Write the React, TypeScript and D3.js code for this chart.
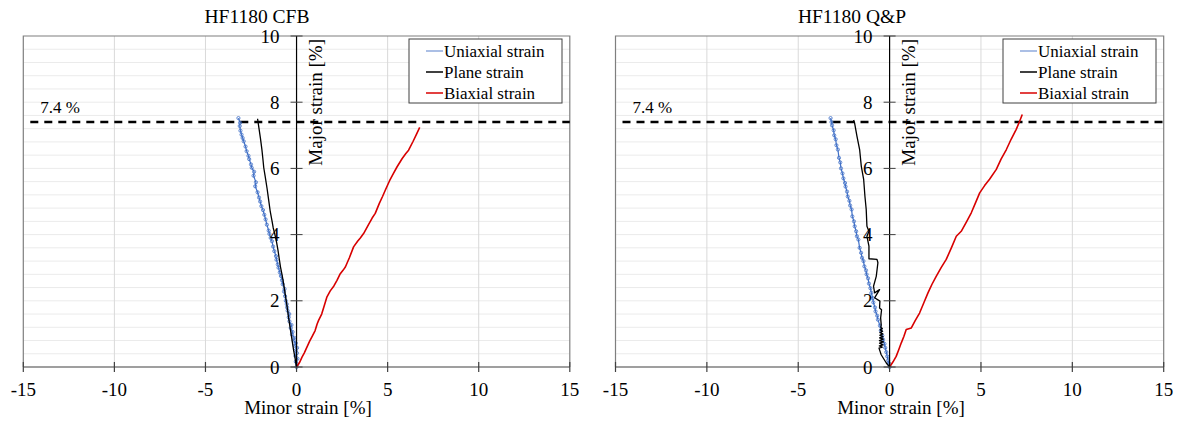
import React from "react";
import * as d3 from "d3";

type Pt = [number, number];

const xTicks = [-15, -10, -5, 0, 5, 10, 15];
const yTicks = [0, 2, 4, 6, 8, 10];
const limitValue = 7.4;
const limitLabel = "7.4 %";
const seriesNames = ["Uniaxial strain", "Plane strain", "Biaxial strain"];
const titles = ["HF1180 CFB", "HF1180 Q&P"];

const cfbUniaxial: Pt[] = [
  [0, 0], [0.03, 0.08], [-0.04, 0.16], [0.05, 0.25], [-0.06, 0.33], [0.02, 0.42], [-0.05, 0.5],
  [0.03, 0.58], [-0.1, 0.64], [-0.04, 0.72], [-0.16, 0.8], [-0.12, 0.88], [-0.25, 0.98],
  [-0.22, 1.06], [-0.32, 1.18], [-0.28, 1.27], [-0.39, 1.38], [-0.43, 1.5], [-0.4, 1.6],
  [-0.49, 1.7], [-0.52, 1.8], [-0.54, 1.9], [-0.59, 2.0], [-0.63, 2.14], [-0.69, 2.28],
  [-0.66, 2.36], [-0.76, 2.5], [-0.8, 2.62], [-0.86, 2.75], [-0.92, 2.86], [-0.99, 3.0],
  [-1.03, 3.1], [-1.1, 3.24], [-1.13, 3.35], [-1.22, 3.5], [-1.29, 3.64], [-1.35, 3.8],
  [-1.42, 3.9], [-1.49, 4.02], [-1.53, 4.12], [-1.63, 4.3], [-1.7, 4.46], [-1.77, 4.6],
  [-1.84, 4.74], [-1.93, 4.86], [-2.0, 5.0], [-2.06, 5.12], [-2.14, 5.28], [-2.27, 5.46],
  [-2.23, 5.58], [-2.36, 5.78], [-2.33, 5.9], [-2.46, 6.02], [-2.5, 6.12], [-2.6, 6.28],
  [-2.64, 6.38], [-2.74, 6.52], [-2.8, 6.66], [-2.9, 6.82], [-2.96, 6.92], [-3.02, 7.02],
  [-3.08, 7.14], [-3.12, 7.28], [-3.1, 7.38], [-3.19, 7.52],
];

const cfbPlane: Pt[] = [
  [0, 0], [-0.03, 0.08], [-0.09, 0.3], [-0.16, 0.5], [-0.23, 0.75], [-0.3, 1.0], [-0.37, 1.25],
  [-0.44, 1.5], [-0.5, 1.75], [-0.57, 2.02], [-0.64, 2.27], [-0.71, 2.52], [-0.79, 2.77],
  [-0.88, 3.02], [-0.95, 3.27], [-1.02, 3.53], [-1.1, 3.78], [-1.2, 4.03], [-1.28, 4.2],
  [-1.35, 4.42], [-1.45, 4.72], [-1.53, 5.04], [-1.62, 5.4], [-1.72, 5.75], [-1.8, 6.02],
  [-1.85, 6.3], [-1.9, 6.56], [-1.98, 6.9], [-2.06, 7.2], [-2.14, 7.5],
];

const cfbBiaxial: Pt[] = [
  [0, 0], [0.18, 0.15], [0.3, 0.3], [0.42, 0.42], [0.57, 0.6], [0.72, 0.78], [0.88, 0.95],
  [1.02, 1.1], [1.13, 1.3], [1.21, 1.41], [1.38, 1.6], [1.52, 1.85], [1.67, 2.12], [1.85, 2.3],
  [2.05, 2.45], [2.22, 2.62], [2.38, 2.8], [2.55, 2.92], [2.68, 3.02], [2.9, 3.3], [3.13, 3.63],
  [3.35, 3.8], [3.5, 3.9], [3.68, 4.03], [3.95, 4.3], [4.15, 4.5], [4.32, 4.64], [4.55, 4.95],
  [4.72, 5.15], [4.87, 5.34], [5.1, 5.62], [5.32, 5.85], [5.52, 6.05], [5.8, 6.3], [6.0, 6.45],
  [6.15, 6.55], [6.4, 6.82], [6.6, 7.05], [6.76, 7.24],
];

const qpUniaxial: Pt[] = [
  [0, 0], [-0.05, 0.12], [-0.08, 0.2], [-0.13, 0.32], [-0.18, 0.45], [-0.24, 0.58], [-0.28, 0.7],
  [-0.36, 0.83], [-0.4, 0.95], [-0.48, 1.1], [-0.53, 1.25], [-0.64, 1.43], [-0.68, 1.55],
  [-0.77, 1.68], [-0.8, 1.8], [-0.89, 1.95], [-0.92, 2.08], [-1.0, 2.24], [-1.05, 2.38],
  [-1.13, 2.52], [-1.18, 2.68], [-1.26, 2.8], [-1.29, 2.92], [-1.38, 3.04], [-1.43, 3.2],
  [-1.51, 3.3], [-1.56, 3.45], [-1.64, 3.6], [-1.71, 3.85], [-1.79, 3.95], [-1.83, 4.1],
  [-1.91, 4.25], [-1.95, 4.4], [-2.04, 4.55], [-2.08, 4.76], [-2.16, 4.88], [-2.2, 5.02],
  [-2.29, 5.15], [-2.33, 5.3], [-2.41, 5.45], [-2.44, 5.56], [-2.53, 5.7], [-2.58, 5.85],
  [-2.66, 6.0], [-2.7, 6.18], [-2.77, 6.32], [-2.83, 6.57], [-2.91, 6.7], [-2.95, 6.88],
  [-3.03, 7.0], [-3.06, 7.15], [-3.15, 7.3], [-3.18, 7.4], [-3.23, 7.52],
];

const qpPlane: Pt[] = [
  [0, 0], [-0.18, 0.12], [-0.46, 0.37], [-0.58, 0.57], [-0.4, 0.6], [-0.56, 0.64], [-0.36, 0.67],
  [-0.55, 0.72], [-0.34, 0.76], [-0.56, 0.8], [-0.35, 0.84], [-0.55, 0.88], [-0.36, 0.92],
  [-0.54, 0.96], [-0.37, 1.0], [-0.53, 1.04], [-0.38, 1.08], [-0.52, 1.12], [-0.4, 1.16],
  [-0.48, 1.2], [-0.46, 1.28], [-0.49, 1.48], [-0.44, 1.73], [-0.55, 1.78], [-0.53, 1.99],
  [-0.82, 2.09], [-0.55, 2.34], [-0.82, 2.24], [-0.88, 2.44], [-0.73, 2.74], [-0.64, 3.15],
  [-0.69, 3.25], [-1.13, 3.27], [-1.13, 3.65], [-1.24, 3.95], [-1.13, 4.1], [-1.24, 4.25],
  [-1.28, 4.76], [-1.35, 5.16], [-1.42, 5.67], [-1.55, 6.07], [-1.64, 6.57], [-1.79, 6.98],
  [-1.92, 7.38], [-1.97, 7.46],
];

const qpBiaxial: Pt[] = [
  [0, 0], [0.18, 0.15], [0.36, 0.32], [0.5, 0.52], [0.64, 0.73], [0.78, 0.92], [0.91, 1.13],
  [1.19, 1.18], [1.4, 1.4], [1.64, 1.63], [1.88, 1.95], [2.1, 2.24], [2.32, 2.5], [2.55, 2.74],
  [2.82, 3.0], [3.1, 3.25], [3.38, 3.6], [3.65, 3.95], [3.92, 4.1], [4.2, 4.38], [4.47, 4.66],
  [4.7, 4.96], [4.93, 5.26], [5.2, 5.48], [5.47, 5.67], [5.84, 5.97], [6.1, 6.28], [6.39, 6.57],
  [6.65, 6.88], [6.93, 7.18], [7.1, 7.4], [7.26, 7.63],
];

const FONT = "'Liberation Serif', 'Times New Roman', serif";
const BLUE = "#3F6FC6";
const BLUE_LIGHT = "#8FAADC";
const RED = "#D80000";

interface PanelProps {
  title: string;
  titleX: number;
  x0: number;
  x1: number;
  uni: Pt[];
  plane: Pt[];
  biax: Pt[];
  legendX: number;
  xTitleX: number;
}

function Panel({ title, titleX, x0, x1, uni, plane, biax, legendX, xTitleX }: PanelProps) {
  const xs = d3.scaleLinear().domain([-15, 15]).range([x0, x1]);
  const ys = d3.scaleLinear().domain([0, 10]).range([367, 36]);
  const line = d3.line<Pt>().x((d) => xs(d[0])).y((d) => ys(d[1]));
  const minor = d3.range(0.4, 10, 0.4);
  const ax = xs(0);
  const legendRows = [
    { name: seriesNames[0], color: BLUE_LIGHT },
    { name: seriesNames[1], color: "#000" },
    { name: seriesNames[2], color: RED },
  ];
  return (
    <g>
      {minor.map((v) => (
        <line key={"h" + v} x1={x0} x2={x1} y1={ys(v)} y2={ys(v)} stroke="#EBEBEB" strokeWidth={1} />
      ))}
      {xTicks.filter((t) => t !== 0 && Math.abs(t) !== 15).map((t) => (
        <line key={"v" + t} x1={xs(t)} x2={xs(t)} y1={ys(10)} y2={ys(0)} stroke="#D9D9D9" strokeWidth={1} />
      ))}
      <path d={`M${x0},${ys(0)}V${ys(10)}H${x1}V${ys(0)}`} fill="none" stroke="#7F7F7F" strokeWidth={1.2} />
      <line x1={x0 + 7} x2={x1} y1={ys(limitValue)} y2={ys(limitValue)} stroke="#000" strokeWidth={2.6} strokeDasharray="8 6" />
      <text x={x0 + 17} y={113} fontFamily={FONT} fontSize={17}>{limitLabel}</text>
      <path d={line(uni) || ""} fill="none" stroke={BLUE} strokeWidth={1.2} />
      {uni.map((d, i) => (
        <circle key={"m" + i} cx={xs(d[0])} cy={ys(d[1])} r={1.6} fill="none" stroke={BLUE} strokeWidth={0.8} />
      ))}
      <path d={line(plane) || ""} fill="none" stroke="#000" strokeWidth={1.3} strokeLinejoin="round" />
      <path d={line(biax) || ""} fill="none" stroke={RED} strokeWidth={1.6} strokeLinejoin="round" />
      <line x1={x0} x2={x1} y1={ys(0)} y2={ys(0)} stroke="#404040" strokeWidth={1.2} />
      {xTicks.map((t) => (
        <g key={"xt" + t}>
          <line x1={xs(t)} x2={xs(t)} y1={ys(0) - 5} y2={ys(0) + 5} stroke="#404040" strokeWidth={1.2} />
          <text x={xs(t)} y={396} textAnchor="middle" fontFamily={FONT} fontSize={19}>{t}</text>
        </g>
      ))}
      <line x1={ax} x2={ax} y1={ys(0)} y2={ys(10)} stroke="#000" strokeWidth={1.2} />
      {yTicks.map((t) => (
        <g key={"yt" + t}>
          <line x1={ax - 6} x2={ax + 6} y1={ys(t)} y2={ys(t)} stroke="#404040" strokeWidth={1} />
          <text x={ax - 17} y={ys(t) + 6.5} textAnchor="end" fontFamily={FONT} fontSize={19}>{t}</text>
        </g>
      ))}
      <text transform={`translate(${ax + 25},39) rotate(-90)`} textAnchor="end" fontFamily={FONT} fontSize={19}>Major strain [%]</text>
      <text x={xTitleX} y={414} textAnchor="middle" fontFamily={FONT} fontSize={19}>Minor strain [%]</text>
      <text x={titleX} y={23} textAnchor="middle" fontFamily={FONT} fontSize={19.5}>{title}</text>
      <rect x={legendX} y={39} width={153} height={64} fill="#fff" stroke="#404040" strokeWidth={1} />
      {legendRows.map((r, i) => (
        <g key={r.name}>
          <line x1={legendX + 17} x2={legendX + 34} y1={51 + i * 21} y2={51 + i * 21} stroke={r.color} strokeWidth={1.5} />
          <text x={legendX + 35} y={57 + i * 21} fontFamily={FONT} fontSize={17}>{r.name}</text>
        </g>
      ))}
    </g>
  );
}

export default function App() {
  return (
    <svg width={1177} height={421} style={{ position: "absolute", left: 0, top: 0, background: "#fff" }}>
      <rect width={1177} height={421} fill="#fff" />
      <Panel title={titles[0]} titleX={257} x0={23.3} x1={569.8} uni={cfbUniaxial} plane={cfbPlane} biax={cfbBiaxial} legendX={409} xTitleX={308} />
      <Panel title={titles[1]} titleX={852} x0={615.5} x1={1163.7} uni={qpUniaxial} plane={qpPlane} biax={qpBiaxial} legendX={1003} xTitleX={901} />
    </svg>
  );
}
